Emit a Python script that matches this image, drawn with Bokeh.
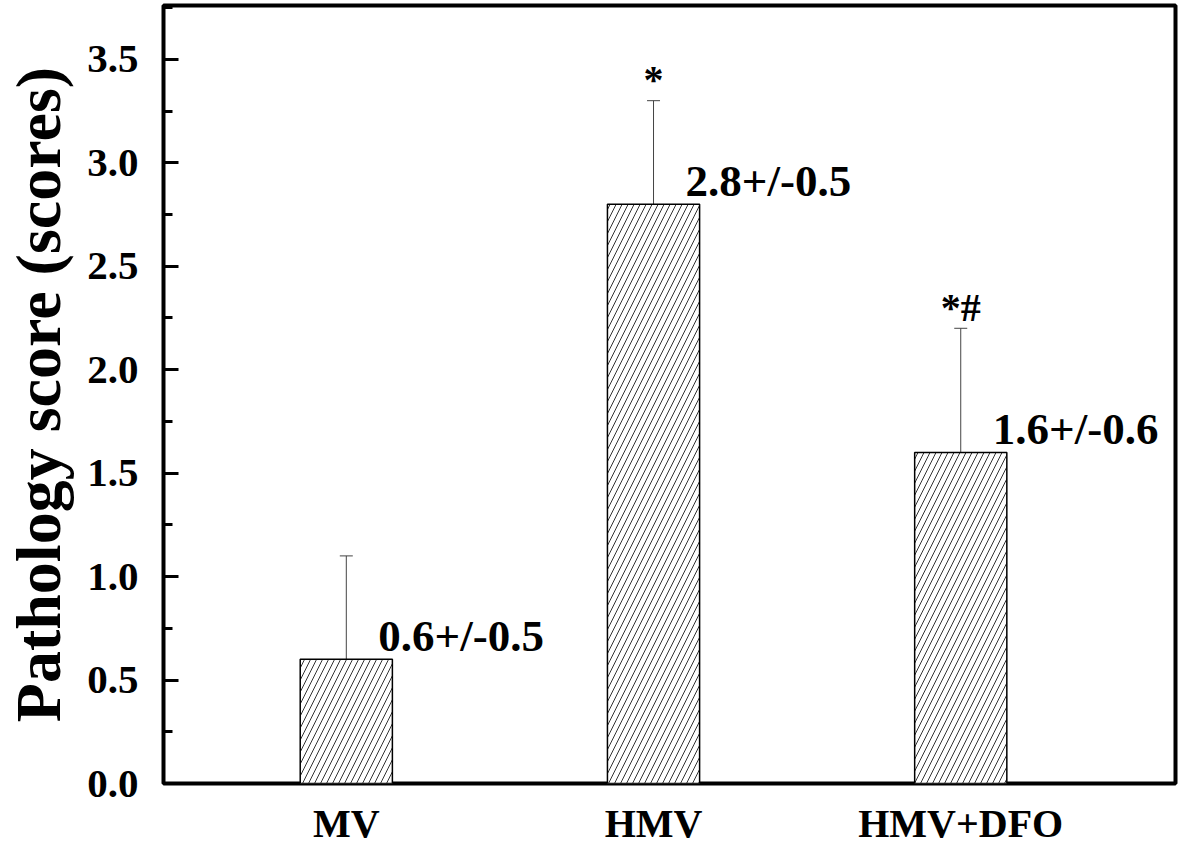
from bokeh.plotting import figure
from bokeh.models import (ColumnDataSource, Range1d, FixedTicker, NumeralTickFormatter,
                          Whisker, TeeHead)
from bokeh.core.properties import value
from bokeh.embed import file_html
from bokeh.resources import INLINE

# ---- data ----
categories = ["MV", "HMV", "HMV+DFO"]
means = [0.6, 2.8, 1.6]
sds = [0.5, 0.5, 0.6]
value_labels = ["0.6+/-0.5", "2.8+/-0.5", "1.6+/-0.6"]
sig_marks = ["", "*", "*#"]
y_ticks = [0.0, 0.5, 1.0, 1.5, 2.0, 2.5, 3.0, 3.5]
y_title = "Pathology score (scores)"

xs = list(range(1, len(categories) + 1))
upper = [m + s for m, s in zip(means, sds)]
lower = [m - s for m, s in zip(means, sds)]
src = ColumnDataSource(dict(x=xs, mean=means, upper=upper, lower=lower,
                            lab=value_labels, sig=sig_marks))

FONT = "Liberation Serif"

p = figure(width=1181, height=848, output_backend="svg", toolbar_location=None,
           x_range=Range1d(0.405, 3.699), y_range=Range1d(0, 3.76),
           min_border_left=162, min_border_right=6, min_border_top=5,
           min_border_bottom=65)
p.grid.visible = False
p.outline_line_color = "black"
p.outline_line_width = 4
p.background_fill_color = "white"
p.border_fill_color = "white"

p.vbar(x="x", top="mean", bottom=0, width=0.3, source=src,
       fill_color="white", line_color="black", line_width=1.5,
       hatch_pattern="/", hatch_color="#333333", hatch_scale=12, hatch_weight=1)

head_u = TeeHead(size=13, line_color="#444444", line_width=1)
head_l = TeeHead(size=13, line_color="#444444", line_width=1)
p.add_layout(Whisker(source=src, base="x", upper="upper", lower="lower",
                     line_color="#444444", line_width=1,
                     upper_head=head_u, lower_head=head_l))

p.text(x="x", y="mean", text="lab", source=src, x_offset=32, y_offset=-23,
       text_font=value(FONT), text_font_style="bold", text_font_size="45px",
       text_baseline="alphabetic", text_align="left", text_color="black")

p.text(x="x", y="upper", text="sig", source=src, y_offset=-21,
       text_font=value(FONT), text_font_style="bold", text_font_size="40px",
       text_baseline="alphabetic", text_align="center", text_color="black")

# y axis
yax = p.yaxis[0]
yax.ticker = FixedTicker(ticks=y_ticks, minor_ticks=[t + 0.25 for t in y_ticks])
yax.formatter = NumeralTickFormatter(format="0.0")
yax.axis_line_color = None
yax.major_tick_in = 15
yax.major_tick_out = 0
yax.minor_tick_in = 9
yax.minor_tick_out = 0
yax.major_tick_line_width = 3
yax.minor_tick_line_width = 3
yax.major_tick_line_color = "black"
yax.minor_tick_line_color = "black"
yax.major_label_standoff = 25
yax.major_label_text_font = FONT
yax.major_label_text_font_style = "bold"
yax.major_label_text_font_size = "41px"
yax.major_label_text_color = "black"
yax.axis_label = y_title
yax.axis_label_standoff = 10
yax.axis_label_text_font = FONT
yax.axis_label_text_font_style = "bold"
yax.axis_label_text_font_size = "64px"
yax.axis_label_text_color = "black"

# x axis
xax = p.xaxis[0]
xax.ticker = FixedTicker(ticks=xs)
xax.major_label_overrides = {x: c for x, c in zip(xs, categories)}
xax.axis_line_color = None
xax.major_tick_line_color = None
xax.minor_tick_line_color = None
xax.major_label_standoff = 11
xax.major_label_text_font = FONT
xax.major_label_text_font_style = "bold"
xax.major_label_text_font_size = "40px"
xax.major_label_text_color = "black"

open("out.html", "w").write(file_html(p, INLINE))
